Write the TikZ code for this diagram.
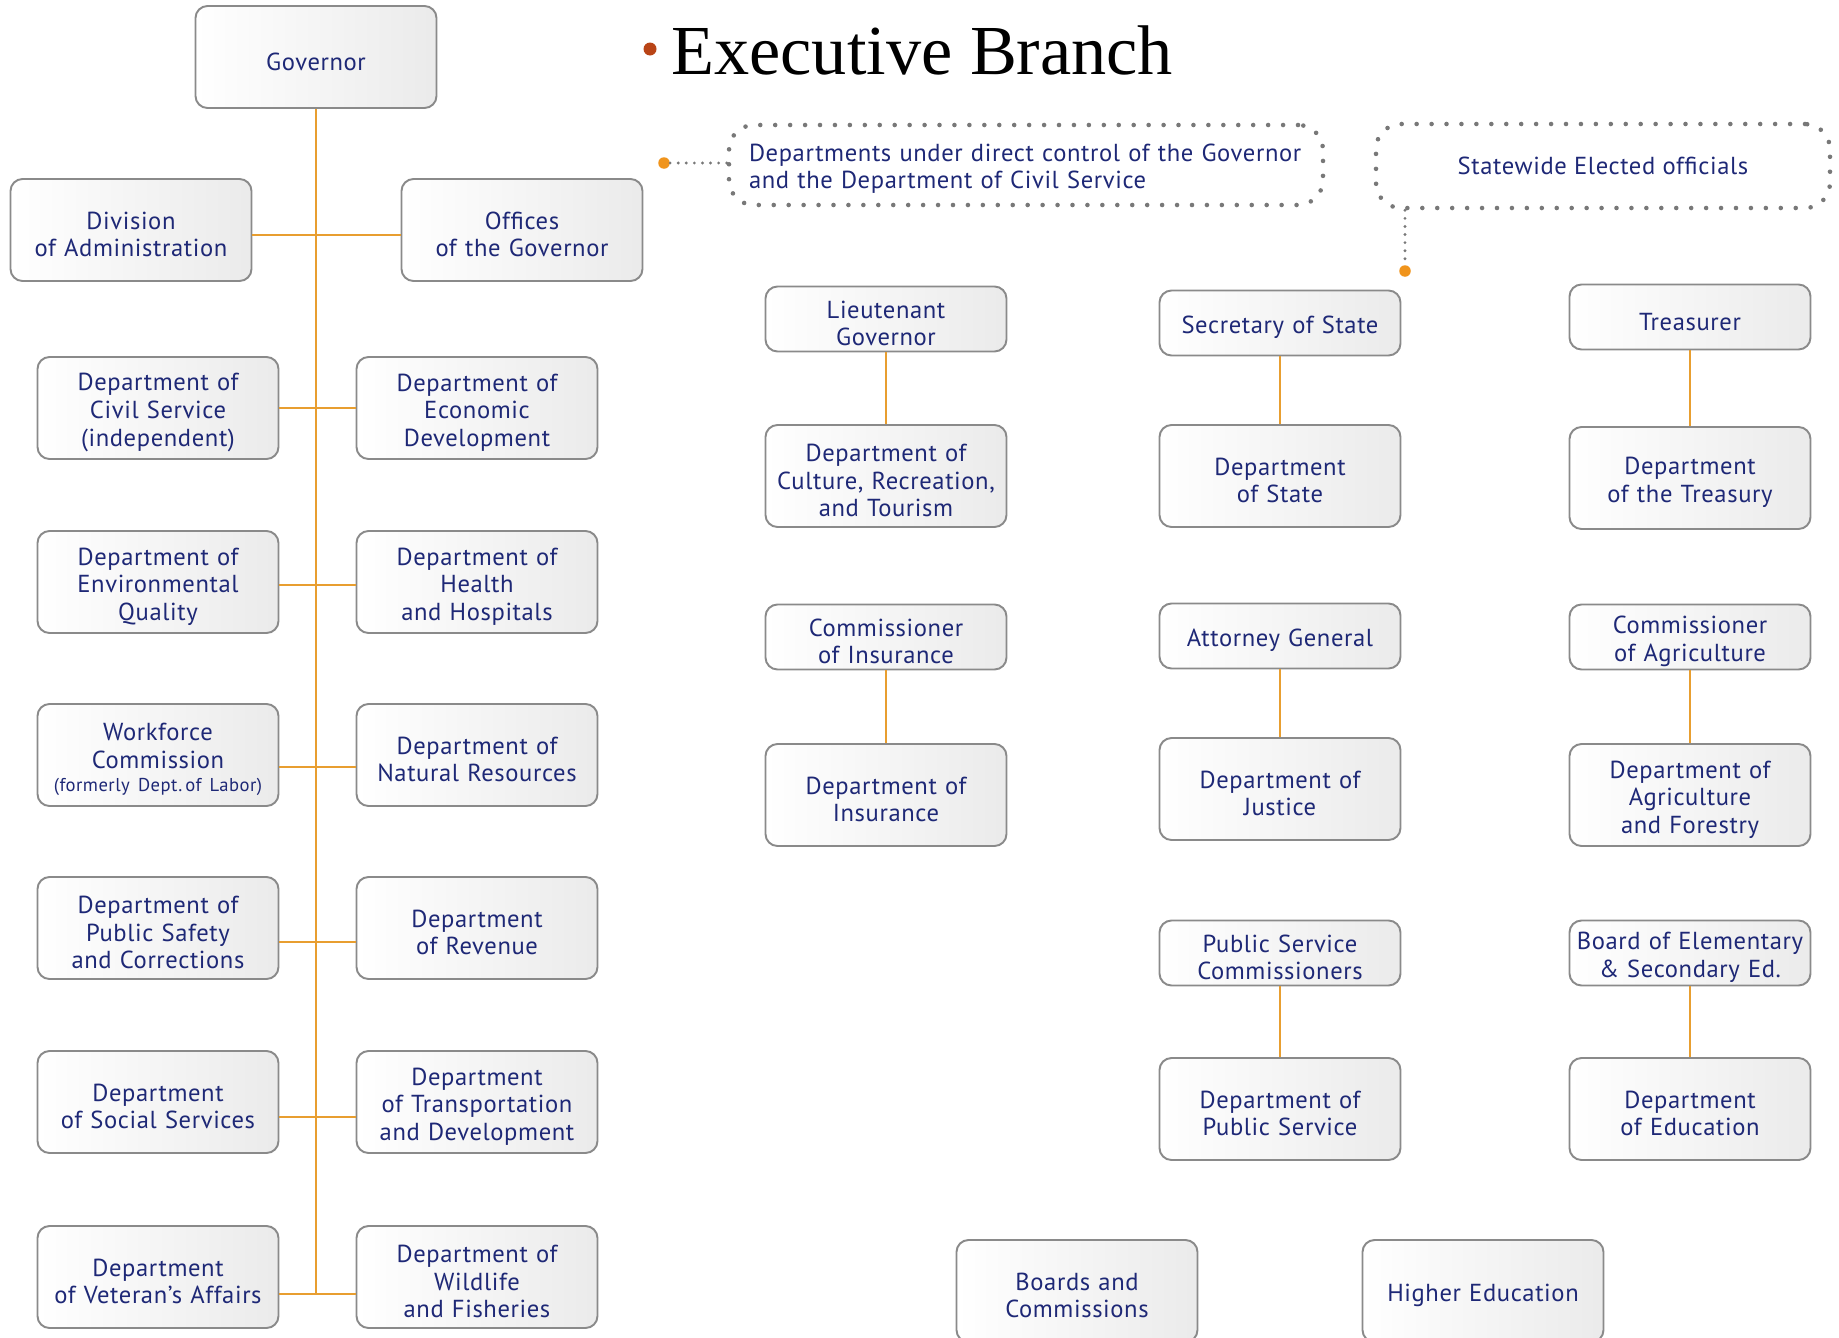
\documentclass[tikz,border=0pt]{standalone}
\usepackage{fontspec}
\setmainfont{PT Sans}[LetterSpace=2.5]
\newfontfamily\titlefont{Liberation Serif}
\definecolor{navy}{RGB}{30,40,118}
\definecolor{linkorange}{RGB}{232,158,48}
\definecolor{rimgray}{RGB}{138,138,138}
\definecolor{dotgray}{RGB}{120,120,120}
\definecolor{bulletbrown}{RGB}{185,68,22}
\definecolor{dotorange}{RGB}{240,148,28}
\tikzset{
  office/.style={draw=rimgray, line width=1.1pt, rounded corners=2.4mm,
    left color=white, right color=gray!16, minimum width=48.2mm,
    minimum height=20.4mm, inner sep=0pt, text width=47mm, align=center,
    text=navy, font=\fontsize{14}{15.7}\selectfont,
    execute at begin node={\rule{0pt}{15pt}}},
  post/.style={office, minimum height=13mm},
  link/.style={draw=linkorange, line width=1.6pt},
  sublink/.style={draw=linkorange, line width=1.2pt},
  note/.style={draw=dotgray, line width=2.6pt, dash pattern=on 0pt off 8.5pt,
    line cap=round, rounded corners=5mm, inner sep=0pt, text=navy,
    font=\fontsize{14}{15.7}\selectfont},
  leader/.style={draw=dotgray, line width=1.8pt, dash pattern=on 0pt off 4.6pt,
    line cap=round},
  hub/.style={circle, fill=dotorange, inner sep=0pt, minimum size=2.3mm}
}
\begin{document}
\begin{tikzpicture}[x=0.2mm, y=-0.2mm]
  \useasboundingbox (0,0) rectangle (1839,1338);
  \clip (0,0) rectangle (1839,1338);
  \fill [bulletbrown] (650,49) circle (1.3mm);
  \node [anchor=base west, inner sep=0pt, font=\titlefont\fontsize{40}{44}\selectfont] (title) at (671,74) {Executive Branch};

  \node [office] (gov) at (316,57) {Governor};
  \node [office] (divadmin) at (131,230) {Division\\of Administration};
  \node [office] (offgov) at (522,230) {Offices\\of the Governor};
  \node [office] (civil) at (158,408) {Department of\\Civil Service\\(independent)};
  \node [office] (econ) at (477,408) {Department of\\Economic\\Development};
  \node [office] (envq) at (158,582) {Department of\\Environmental\\Quality};
  \node [office] (health) at (477,582) {Department of\\Health\\and Hospitals};
  \node [office] (workforce) at (158,755) {Workforce\\Commission\\[-2.7pt]{\fontsize{10.6}{13}\selectfont(formerly Dept.\,of Labor)}};
  \node [office] (natres) at (477,755) {Department of\\Natural Resources};
  \node [office] (pubsafety) at (158,928) {Department of\\Public Safety\\and Corrections};
  \node [office] (revenue) at (477,928) {Department\\of Revenue};
  \node [office] (social) at (158,1102) {Department\\of Social Services};
  \node [office] (transport) at (477,1102) {Department\\of Transportation\\and Development};
  \node [office] (veterans) at (158,1277) {Department\\of Veteran's Affairs};
  \node [office] (wildlife) at (477,1277) {Department of\\Wildlife\\and Fisheries};

  \coordinate (trunkend) at ([yshift=-3.4mm]veterans.east);
  \draw [link] (gov.south) -- (gov.south |- trunkend);
  \draw [link] ([yshift=-1mm]divadmin.east) -- ([yshift=-1mm]offgov.west);
  \draw [link] (civil.east) -- (econ.west);
  \draw [link] ([yshift=-0.6mm]envq.east) -- ([yshift=-0.6mm]health.west);
  \draw [link] ([yshift=-2.4mm]workforce.east) -- ([yshift=-2.4mm]natres.west);
  \draw [link] ([yshift=-2.8mm]pubsafety.east) -- ([yshift=-2.8mm]revenue.west);
  \draw [link] ([yshift=-3mm]social.east) -- ([yshift=-3mm]transport.west);
  \draw [link] ([yshift=-3.4mm]veterans.east) -- ([yshift=-3.4mm]wildlife.west);

  \node [note, minimum width=118.8mm, minimum height=16mm, text width=110.8mm, align=left,
    execute at begin node={\rule{0pt}{14pt}}] (direct) at (1026,165)
    {Departments under direct control of the Governor\\and the Department of Civil Service};
  \node [note, minimum width=90.8mm, minimum height=16.8mm] (elected) at (1603,166) {Statewide Elected officials};
  \node [hub] (dotdirect) at (664,163) {};
  \node [hub] (dotelected) at (1405,271) {};
  \draw [leader] (dotdirect) -- (direct.west |- dotdirect);
  \draw [leader] (elected.south -| dotelected) -- (dotelected);

  \node [post] (ltgov) at (886,319) {Lieutenant\\Governor};
  \node [office] (culture) at (886,476) {Department of\\Culture, Recreation,\\and Tourism};
  \node [post] (cominsur) at (886,637) {Commissioner\\of Insurance};
  \node [office] (insurance) at (886,795) {Department of\\Insurance};

  \node [post] (secstate) at (1280,323) {Secretary of State};
  \node [office] (state) at (1280,476) {Department\\of State};
  \node [post] (attgen) at (1280,636) {Attorney General};
  \node [office] (justice) at (1280,789) {Department of\\Justice};
  \node [post] (psc) at (1280,953) {Public Service\\Commissioners};
  \node [office] (pubservice) at (1280,1109) {Department of\\Public Service};

  \node [post] (treasurer) at (1690,317) {Treasurer};
  \node [office] (treasury) at (1690,478) {Department\\of the Treasury};
  \node [post] (comagri) at (1690,637) {Commissioner\\of Agriculture};
  \node [office] (agriculture) at (1690,795) {Department of\\Agriculture\\and Forestry};
  \node [post] (bese) at (1690,953) {Board of Elementary\\\& Secondary Ed.};
  \node [office] (education) at (1690,1109) {Department\\of Education};

  \draw [sublink] (ltgov) -- (culture);
  \draw [sublink] (cominsur) -- (insurance);
  \draw [sublink] (secstate) -- (state);
  \draw [sublink] (attgen) -- (justice);
  \draw [sublink] (psc) -- (pubservice);
  \draw [sublink] (treasurer) -- (treasury);
  \draw [sublink] (comagri) -- (agriculture);
  \draw [sublink] (bese) -- (education);

  \node [office] (boards) at (1077,1291) {Boards and\\Commissions};
  \node [office] (highered) at (1483,1291) {Higher Education};
\end{tikzpicture}
\end{document}
